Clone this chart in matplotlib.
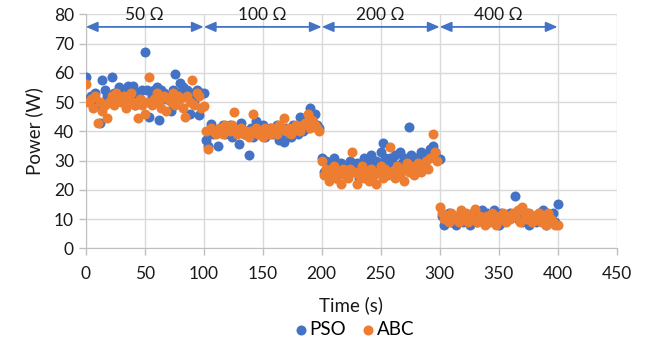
import numpy as np
import matplotlib.pyplot as plt

plt.rcParams['font.family'] = ['Lato', 'DejaVu Sans']

# sample times (s), one reading every 2 s
time = np.arange(0, 401, 2)

pso = [
    58.5, 51, 52, 50, 53, 49, 43, 57.5, 54, 52,
    51, 58.5, 53, 50, 55, 52, 51, 54, 55.5, 52,
    55.5, 49, 53, 51, 54, 67, 54, 45, 52, 54,
    55, 44, 54, 53, 51, 52, 47, 54, 59.5, 53,
    56.5, 55, 52, 54, 46, 53, 50, 54, 45.5, 53,
    53, 37, 35, 42.5, 39, 40, 35, 41, 42, 39,
    40, 42, 38, 41, 40, 35.5, 43, 39, 40, 32,
    41, 38, 43.5, 40, 39, 42, 38, 40, 41, 39,
    40, 42, 37, 39, 36.5, 41, 40, 38, 42, 41,
    39, 45, 40, 42, 41, 48, 44, 46, 42, 41,
    31, 26, 30, 25, 28, 31, 24, 27, 29, 26,
    28, 25, 30, 27, 26, 29, 24, 28, 31, 27,
    29, 32, 28, 30, 27, 33, 36, 31, 29, 31,
    30, 32, 28, 33, 29, 31, 30, 41.5, 32, 30,
    31, 29, 33, 30, 32, 31, 34, 35, 33, 31,
    30.5, 11, 8, 10, 12, 9, 11, 8, 10, 12,
    9, 11, 10, 8, 12, 10, 9, 11, 13, 10,
    12, 9, 11, 13, 10, 8, 12, 9, 11, 10,
    12, 11, 18, 10, 13, 9, 11, 12, 8, 10,
    11, 9, 12, 10, 13, 8, 11, 10, 12, 9,
    15,
]

abc = [
    56, 50, 51, 48, 52, 43, 50, 47, 49, 44.5,
    50, 52, 49, 53, 51, 50, 52, 48, 51, 53,
    50, 49, 44.5, 51, 49, 46, 50, 58.5, 49, 51,
    53, 50, 48, 52, 47, 51, 50, 53, 49, 52,
    51, 48, 45, 52, 50, 57.5, 49, 53, 52, 48,
    48.5, 40, 34, 41, 40, 39, 40, 41, 39, 42,
    41, 40, 42, 46.5, 39, 40, 41, 39, 40, 38,
    40, 46, 41, 39, 40, 38, 41, 40, 39, 41,
    40, 39, 42, 41, 44.5, 40, 41, 39, 40, 42,
    41, 40, 42, 43, 46, 41, 44, 42, 41, 40,
    30, 25, 27, 23, 26, 28, 24, 26, 22, 27,
    25, 24, 27, 33, 26, 22, 25, 28, 24, 26,
    23, 27, 25, 22, 26, 28, 24, 27, 25, 34.5,
    26, 24, 28, 25, 27, 23, 29, 26, 28, 25,
    27, 29, 26, 28, 30, 27, 31, 39, 33, 30,
    14, 12, 10, 11, 9, 12, 10, 11, 9, 13,
    10, 12, 9, 11, 10, 13.5, 9, 11, 10, 8,
    11, 9, 12, 10, 8, 11, 10, 12, 9, 11,
    10, 12, 11, 13, 9, 14, 11, 10, 12, 9,
    11, 10, 12, 9, 11, 8, 12, 10, 9, 8,
    8,
]

loads = ['50 Ω', '100 Ω', '200 Ω', '400 Ω']
load_edges = [0, 100, 200, 300, 400]

blue = '#4472C4'
orange = '#ED7D31'
txt = '#1a1a1a'

fig = plt.figure(figsize=(6.45, 3.41), dpi=100)
ax = fig.add_axes([0.133, 0.272, 0.823, 0.686])

ax.scatter(time, pso, s=52, color=blue, label='PSO', zorder=3, linewidths=0)
ax.scatter(time, abc, s=52, color=orange, label='ABC', zorder=4, linewidths=0)

# load change arrows
for i, name in enumerate(loads):
    x0, x1 = load_edges[i], load_edges[i + 1]
    ax.annotate('', xy=(x0, 75.7), xytext=(x1, 75.7),
                arrowprops=dict(arrowstyle='<|-|>,head_length=0.7,head_width=0.3',
                                color=blue, lw=1.3, shrinkA=0, shrinkB=0),
                zorder=5)
    ax.text((x0 + x1) / 2, 79.6, name, ha='center', va='center', fontsize=12.5,
            color=txt)

ax.set_xlim(0, 450)
ax.set_ylim(0, 80)
ax.set_xticks(range(0, 451, 50))
ax.set_yticks(range(0, 81, 10))
ax.grid(True, color='#D9D9D9', lw=1, zorder=0)
ax.set_axisbelow(True)
for side in ['top', 'right']:
    ax.spines[side].set_visible(False)
for side in ['left', 'bottom']:
    ax.spines[side].set_color('#BFBFBF')
ax.tick_params(axis='both', colors='#BFBFBF', length=5, width=1,
               labelcolor=txt, labelsize=12.5)
ax.tick_params(axis='x', pad=8)

ax.set_xlabel('Time (s)', fontsize=13.5, color=txt, labelpad=10)
ax.set_ylabel('Power (W)', fontsize=13.5, color=txt, labelpad=8)

fig.legend(loc='center', bbox_to_anchor=(0.54, 0.035), ncol=2, frameon=False,
           fontsize=13.5, handletextpad=-0.55, columnspacing=0.2,
           scatterpoints=1)

fig.savefig('out.png', dpi=100)
